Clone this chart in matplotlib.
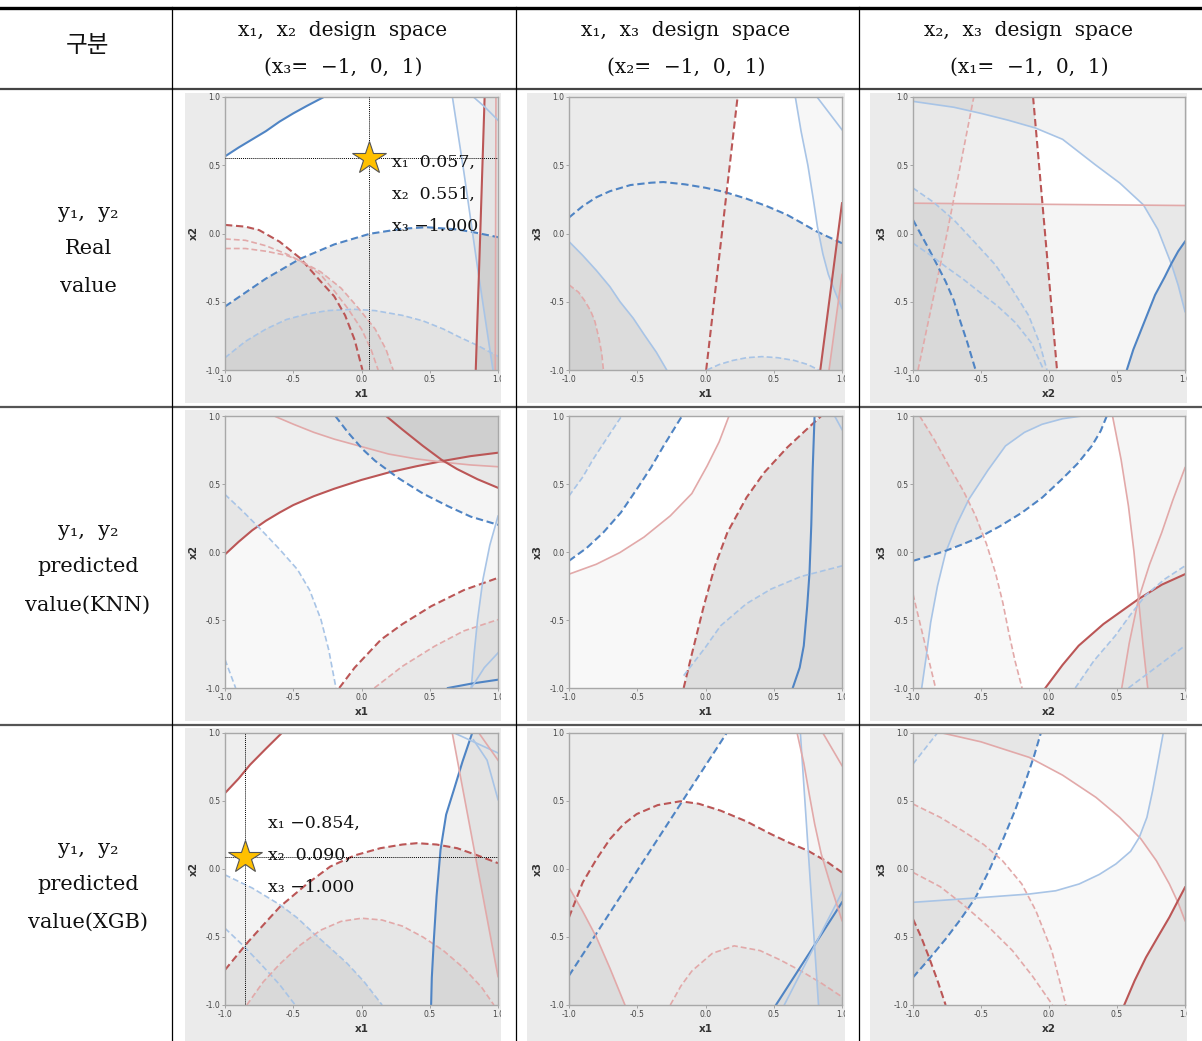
import numpy as np
import matplotlib.pyplot as plt
from matplotlib.patches import Rectangle
from matplotlib.lines import Line2D
from matplotlib.path import Path
from matplotlib.transforms import Bbox, TransformedBbox

W, H = 1202, 1041

# ---- contour curves per panel: name -> (x values, y values) ----
# row 1 : real values
real_12 = {
    "A": ([-1, -0.9, -0.8, -0.7, -0.6, -0.5, -0.4, -0.276],
          [0.565, 0.63, 0.69, 0.75, 0.82, 0.88, 0.935, 1.0]),
    "B": ([-1, -0.7, -0.451, -0.2, 0.061, 0.3, 0.476, 0.7, 0.817, 1],
          [-0.535, -0.33, -0.186, -0.08, -0.002, 0.035, 0.046, 0.03, 0.01, -0.027]),
    "C": ([-1, -0.85, -0.7, -0.55, -0.4, -0.25, -0.06, 0.1, 0.3, 0.45, 0.6, 0.72, 0.85, 1],
          [-0.91, -0.79, -0.7, -0.63, -0.59, -0.565, -0.555, -0.565, -0.6, -0.64, -0.7, -0.76, -0.82, -0.9]),
    "D1": ([-1, -0.85, -0.75, -0.6, -0.45, -0.3, -0.2, -0.12, -0.05, 0.007],
           [0.063, 0.05, 0.025, -0.06, -0.18, -0.35, -0.46, -0.6, -0.78, -1]),
    "D2": ([-1, -0.85, -0.7, -0.55, -0.45, -0.3, -0.2, -0.1, 0.0, 0.07, 0.122],
           [-0.04, -0.05, -0.09, -0.15, -0.2, -0.3, -0.42, -0.55, -0.7, -0.85, -1]),
    "D3": ([-1, -0.85, -0.7, -0.55, -0.45, -0.3, -0.15, -0.02, 0.1, 0.18, 0.232],
           [-0.11, -0.11, -0.13, -0.16, -0.2, -0.28, -0.4, -0.55, -0.7, -0.85, -1]),
    "E": ([0.666, 0.75, 0.85, 0.963], [1, 0.45, -0.25, -1]),
    "F": ([0.902, 0.87, 0.837], [1, 0.0, -1]),
    "G": ([0.985, 0.98], [1, -1]),
    "H": ([0.82, 0.9, 1], [1, 0.93, 0.83]),
}
real_13 = {
    "A": ([-1, -0.9, -0.8, -0.7, -0.55, -0.4, -0.308, -0.15, 0, 0.144, 0.3, 0.45, 0.597, 0.7, 0.804, 0.9, 1],
          [0.117, 0.2, 0.265, 0.31, 0.355, 0.372, 0.377, 0.36, 0.335, 0.303, 0.255, 0.2, 0.137, 0.08, 0.02,
           -0.025, -0.071]),
    "B": ([0.005, 0.235], [-1, 1]),
    "C": ([-1, -0.9, -0.8, -0.7, -0.626, -0.53, -0.45, -0.36, -0.284],
          [-0.059, -0.16, -0.27, -0.39, -0.5, -0.62, -0.74, -0.87, -1]),
    "D": ([-1, -0.93, -0.88, -0.84, -0.81, -0.78, -0.76, -0.748],
          [-0.376, -0.43, -0.5, -0.57, -0.645, -0.77, -0.88, -1]),
    "E": ([0.01, 0.1, 0.2, 0.3, 0.413, 0.53, 0.65, 0.75, 0.829],
          [-1, -0.96, -0.93, -0.91, -0.902, -0.91, -0.93, -0.96, -1]),
    "F": ([0.658, 0.7, 0.75, 0.79, 0.82, 0.86, 0.9, 0.95, 1.0],
          [1, 0.75, 0.5, 0.25, 0.05, -0.15, -0.3, -0.43, -0.55]),
    "G": ([0.817, 1], [1, 0.76]),
    "H": ([0.841, 1], [-1, 0.222]),
    "I": ([0.905, 1], [-1, -0.3]),
}
real_23 = {
    "A": ([-1, -0.7, -0.5, -0.3, -0.1, 0.1, 0.34, 0.52, 0.694, 0.8, 0.902, 0.95, 1],
          [0.968, 0.925, 0.88, 0.83, 0.773, 0.69, 0.504, 0.37, 0.21, 0.03, -0.23, -0.38, -0.572]),
    "B": ([-0.117, 0.059], [1, -1]),
    "C": ([-1, 1], [0.222, 0.205]),
    "D": ([-0.963, -0.75, -0.553], [-1, 0, 1]),
    "E": ([-1, -0.94, -0.88, -0.82, -0.76, -0.7, -0.65, -0.6, -0.54],
          [0.1, -0.01, -0.12, -0.235, -0.352, -0.49, -0.65, -0.8, -1]),
    "F": ([-1, -0.87, -0.75, -0.63, -0.516, -0.38, -0.25, -0.13, -0.039],
          [-0.071, -0.16, -0.25, -0.335, -0.425, -0.53, -0.65, -0.8, -1]),
    "G": ([-1, -0.85, -0.7, -0.55, -0.394, -0.27, -0.15, -0.07, -0.015],
          [0.333, 0.23, 0.1, -0.06, -0.23, -0.41, -0.6, -0.8, -1]),
    "H": ([0.572, 0.62, 0.68, 0.78, 0.85, 0.9, 0.95, 1],
          [-1, -0.85, -0.7, -0.45, -0.32, -0.22, -0.13, -0.059]),
}
# row 2 : KNN predictions
knn_12 = {
    "A": ([-1, -0.9, -0.8, -0.7, -0.6, -0.5, -0.35, -0.2, 0, 0.2, 0.4, 0.6, 0.8, 1],
          [-0.018, 0.075, 0.16, 0.23, 0.29, 0.345, 0.41, 0.465, 0.53, 0.585, 0.63, 0.67, 0.705, 0.73]),
    "B": ([-0.64, -0.5, -0.35, -0.2, 0, 0.2, 0.4, 0.6, 0.8, 1],
          [1, 0.94, 0.88, 0.83, 0.775, 0.72, 0.685, 0.66, 0.64, 0.627]),
    "C": ([0.18, 0.3, 0.45, 0.584, 0.7, 0.85, 1], [1, 0.9, 0.78, 0.68, 0.61, 0.535, 0.472]),
    "D": ([-0.192, -0.1, 0.009, 0.1, 0.266, 0.45, 0.633, 0.8, 1],
          [1, 0.88, 0.755, 0.67, 0.546, 0.43, 0.337, 0.26, 0.2]),
    "E": ([-1, -0.87, -0.738, -0.6, -0.469, -0.38, -0.297, -0.24, -0.187],
          [0.423, 0.3, 0.166, 0.02, -0.129, -0.28, -0.497, -0.72, -1]),
    "F": ([-1, -0.922], [-0.791, -1]),
    "G": ([-0.163, -0.05, 0.143, 0.3, 0.51, 0.75, 1], [-1, -0.85, -0.644, -0.53, -0.399, -0.28, -0.19]),
    "H": ([0.094, 0.3, 0.535, 0.75, 1], [-1, -0.84, -0.693, -0.58, -0.497]),
    "I": ([0.804, 0.825, 0.85, 0.89, 0.94, 1], [-1, -0.75, -0.5, -0.2, 0.05, 0.264]),
    "J": ([0.633, 0.804, 1], [-1, -0.968, -0.939]),
    "K": ([0.804, 0.9, 1], [-1, -0.85, -0.742]),
}
knn_13 = {
    "A": ([-1, -0.9, -0.823, -0.72, -0.614], [0.412, 0.55, 0.682, 0.84, 1]),
    "B": ([-1, -0.87, -0.749, -0.62, -0.504, -0.4, -0.307, -0.172],
          [-0.065, 0.03, 0.143, 0.29, 0.461, 0.62, 0.78, 1]),
    "C": ([-1, -0.8, -0.627, -0.45, -0.258, -0.1, 0.012, 0.1, 0.172],
          [-0.163, -0.09, -0.004, 0.11, 0.266, 0.43, 0.633, 0.81, 1]),
    "D": ([-0.16, -0.1, -0.012, 0.07, 0.16, 0.3, 0.43, 0.6, 0.75, 0.848],
          [-1, -0.75, -0.395, -0.1, 0.143, 0.4, 0.584, 0.77, 0.91, 1]),
    "E": ([0.639, 0.69, 0.72, 0.745, 0.762, 0.775, 0.785, 0.799],
          [-1, -0.85, -0.689, -0.4, -0.151, 0.2, 0.6, 1]),
    "F": ([-0.16, 0, 0.111, 0.3, 0.479, 0.7, 1], [-0.909, -0.7, -0.542, -0.38, -0.273, -0.18, -0.102]),
    "G": ([0.946, 1], [1, 0.9]),
}
knn_23 = {
    "A": ([-0.936, -0.9, -0.87, -0.82, -0.76, -0.68, -0.589, -0.45, -0.32, -0.18, -0.051, 0.1, 0.242],
          [-1, -0.75, -0.518, -0.25, -0.004, 0.2, 0.388, 0.6, 0.78, 0.88, 0.939, 0.98, 1]),
    "B": ([-1, -0.88, -0.76, -0.64, -0.516, -0.36, -0.198, -0.05, 0.095, 0.21, 0.315, 0.38, 0.425],
          [-0.065, -0.03, 0.009, 0.055, 0.106, 0.19, 0.29, 0.4, 0.535, 0.65, 0.78, 0.89, 1]),
    "C": ([-0.951, -0.84, -0.736, -0.63, -0.54, -0.46, -0.394, -0.34, -0.296, -0.25, -0.198],
          [1, 0.82, 0.633, 0.45, 0.266, 0.06, -0.151, -0.37, -0.591, -0.8, -1]),
    "D": ([-1, -0.834], [-0.31, -1]),
    "E": ([0.467, 0.53, 0.584, 0.625, 0.658, 0.69, 0.726], [1, 0.68, 0.339, 0, -0.346, -0.67, -1]),
    "F": ([-0.027, 0.1, 0.218, 0.4, 0.658, 0.83, 1], [-1, -0.83, -0.689, -0.53, -0.346, -0.24, -0.163]),
    "G": ([0.535, 0.59, 0.658, 0.74, 0.829, 0.91, 1], [-1, -0.67, -0.346, -0.09, 0.143, 0.38, 0.62]),
    "H": ([0.193, 0.33, 0.487, 0.6, 0.707, 0.85, 1], [-1, -0.8, -0.616, -0.46, -0.322, -0.2, -0.102]),
    "I": ([0.584, 1], [-1, -0.689]),
}
# row 3 : XGB predictions
xgb_12 = {
    "A": ([-1, -0.9, -0.816, -0.7, -0.584], [0.558, 0.665, 0.767, 0.885, 1]),
    "B": ([-1, -0.9, -0.829, -0.7, -0.596, -0.4, -0.229, -0.05, 0.138, 0.3, 0.408, 0.55, 0.701, 0.85, 1],
          [-0.742, -0.62, -0.534, -0.39, -0.276, -0.11, 0.018, 0.1, 0.153, 0.18, 0.19, 0.18, 0.153, 0.1, 0.043]),
    "C": ([-1, -0.8, -0.596, -0.47, -0.351, -0.23, -0.106, 0.02, 0.151],
          [-0.043, -0.14, -0.264, -0.36, -0.472, -0.58, -0.693, -0.83, -1]),
    "D": ([-1, -0.87, -0.743, -0.6, -0.486], [-0.436, -0.56, -0.693, -0.85, -1]),
    "E": ([-0.84, -0.72, -0.6, -0.45, -0.3, -0.15, 0, 0.15, 0.3, 0.45, 0.6, 0.75, 0.88, 0.97],
          [-1, -0.83, -0.7, -0.56, -0.45, -0.385, -0.362, -0.375, -0.42, -0.5, -0.6, -0.73, -0.87, -1]),
    "F": ([0.51, 0.515, 0.53, 0.55, 0.579, 0.62, 0.677, 0.74, 0.811],
          [-1, -0.8, -0.521, -0.2, 0.141, 0.4, 0.583, 0.79, 1]),
    "G": ([0.665, 1], [1, -0.791]),
    "H": ([0.68, 1], [1, 0.853]),
    "I": ([0.86, 1], [1, 0.8]),
    "J": ([0.82, 0.92, 1], [0.95, 0.8, 0.51]),
}
xgb_13 = {
    "A": ([-1, 0.155], [-0.784, 1]),
    "B": ([-1, -0.9, -0.8, -0.7, -0.6, -0.504, -0.35, -0.184, -0.05, 0.111, 0.3, 0.479, 0.62, 0.749, 0.88, 1],
          [-0.355, -0.1, 0.07, 0.22, 0.33, 0.404, 0.47, 0.498, 0.48, 0.429, 0.35, 0.257, 0.19, 0.135, 0.06,
           -0.025]),
    "C": ([-1, -0.9, -0.799, -0.7, -0.59], [-0.135, -0.31, -0.502, -0.73, -1]),
    "D": ([-0.258, -0.18, -0.1, 0.05, 0.21, 0.4, 0.55, 0.7, 0.85, 1],
          [-1, -0.86, -0.75, -0.62, -0.565, -0.6, -0.67, -0.75, -0.84, -0.94]),
    "E": ([0.516, 1], [-1, -0.245]),
    "F": ([0.577, 1], [-1, -0.172]),
    "G": ([0.695, 0.828], [1, -1]),
    "H": ([0.671, 0.72, 0.76, 0.8, 0.848, 0.92, 1], [1, 0.78, 0.55, 0.33, 0.11, -0.13, -0.38]),
    "I": ([0.86, 1], [1, 0.76]),
}
xgb_23 = {
    "A": ([-1, -0.88, -0.76, -0.65, -0.539, -0.44, -0.342, -0.25, -0.171, -0.11, -0.06],
          [-0.797, -0.66, -0.515, -0.37, -0.208, -0.01, 0.208, 0.43, 0.65, 0.83, 1]),
    "B": ([-0.784, -0.5, -0.146, 0.1, 0.345, 0.52, 0.676, 0.79, 0.885, 0.95, 1],
          [1, 0.935, 0.821, 0.69, 0.527, 0.38, 0.221, 0.06, -0.11, -0.25, -0.38]),
    "C": ([-1, -0.539, -0.146, 0.05, 0.222, 0.37, 0.492, 0.6, 0.664, 0.72, 0.762, 0.8, 0.84],
          [-0.245, -0.213, -0.184, -0.16, -0.11, -0.04, 0.037, 0.13, 0.233, 0.38, 0.576, 0.78, 1]),
    "D": ([-1, -0.821], [0.772, 1]),
    "E": ([-1, -0.8, -0.637, -0.48, -0.342, -0.2, -0.097, 0.02, 0.124],
          [0.478, 0.38, 0.282, 0.18, 0.061, -0.11, -0.306, -0.6, -1]),
    "F": ([-1, -0.8, -0.637, -0.45, -0.269, -0.12, 0.026], [-0.025, -0.13, -0.257, -0.42, -0.6, -0.79, -1]),
    "G": ([-1, -0.94, -0.882, -0.82, -0.76], [-0.368, -0.5, -0.65, -0.82, -1]),
    "H": ([0.553, 0.63, 0.713, 0.8, 0.885, 0.95, 1], [-1, -0.82, -0.65, -0.5, -0.355, -0.23, -0.135]),
}

# optimum points marked with a star (x, y, text lines)
opt_real = (0.057, 0.551, ["x\u2081  0.057,", "x\u2082  0.551,", "x\u2083 \u22121.000"])
opt_xgb = (-0.854, 0.090, ["x\u2081 \u22120.854,", "x\u2082  0.090,", "x\u2083 \u22121.000"])

col_titles = [("x\u2081,  x\u2082  design  space", "(x\u2083=  \u22121,  0,  1)"),
              ("x\u2081,  x\u2083  design  space", "(x\u2082=  \u22121,  0,  1)"),
              ("x\u2082,  x\u2083  design  space", "(x\u2081=  \u22121,  0,  1)")]
row_titles = [["y\u2081,  y\u2082", "Real", "value"],
              ["y\u2081,  y\u2082", "predicted", "value(KNN)"],
              ["y\u2081,  y\u2082", "predicted", "value(XGB)"]]
axis_names = [("x1", "x2"), ("x1", "x3"), ("x2", "x3")]

# ---- styles: (curve, style code, corners closing the shaded side, shade, shade group) ----
# curves of one group shade as a union, different groups add up
TL, TR, BL, BR = (-1, 1), (1, 1), (-1, -1), (1, -1)
sty_real_12 = [("A", "B-", [TL], 0.08, "a"), ("B", "B--", [BR, BL], 0.08, "b"),
               ("C", "b--", [BR, BL], 0.03, "c"),
               ("D1", "R--", [BL], 0.065, "d"), ("D2", "r--", [BL], 0.04, "d"), ("D3", "r--", [BL], 0.04, "d"),
               ("E", "b-", [BR, TR], 0.035, "e"), ("F", "R-", [BR, TR], 0.07, "f"),
               ("G", "r-", [BR, TR], 0.03, "e"), ("H", "b-", [TR], 0.03, "e")]
sty_real_13 = [("A", "B--", [BR, BL], 0.08, "a"), ("B", "R--", [TL, BL], 0.08, "a"),
               ("C", "b-", [BL], 0.06, "c"), ("D", "r--", [BL], 0.04, "d"), ("E", "b--", [], 0.03, "e"),
               ("F", "b-", [TR], 0.035, "f"), ("G", "b-", [TR], 0.02, "f"), ("H", "R-", [BR], 0.06, "h"),
               ("I", "r-", [BR], 0.03, "i")]
sty_real_23 = [("A", "b-", [TR, TL], 0.05, "a"), ("B", "R--", [BL, TL], 0.07, "b"),
               ("C", "r-", [BR, BL], 0.04, "c"), ("D", "r--", [TL, BL], 0.02, "d"),
               ("E", "B--", [BL], 0.04, "e"), ("F", "b--", [BL], 0.02, "e"), ("G", "b--", [BL], 0.02, "e"),
               ("H", "B-", [BR], 0.08, "h")]
sty_knn_12 = [("A", "R-", [TR, TL], 0.07, "a"), ("B", "r-", [TR], 0.03, "b"), ("C", "R-", [TR], 0.05, "c"),
              ("D", "B--", [TR], 0.04, "d"), ("E", "b--", [BL], 0.03, "e"), ("F", "b--", [BL], 0.02, "e"),
              ("G", "R--", [BR], 0.06, "g"), ("H", "r--", [BR], 0.03, "h"), ("I", "b-", [BR], 0.04, "i"),
              ("J", "B-", [BR], 0.04, "i"), ("K", "b-", [BR], 0.0, "k")]
sty_knn_13 = [("A", "b--", [TL], 0.03, "a"), ("B", "B--", [TL], 0.07, "b"),
              ("C", "r-", [TR, BR, BL], 0.03, "c"), ("D", "R--", [TR, BR], 0.08, "d"),
              ("E", "B-", [TR, BR], 0.02, "e"), ("F", "b--", [BR, (-0.16, -1)], 0.02, "f"),
              ("G", "b-", [TR], 0.0, "g")]
sty_knn_23 = [("A", "b-", [TL, BL], 0.04, "a"), ("B", "B--", [TL], 0.07, "b"), ("C", "r--", [BL, TL], 0.03, "c"),
              ("D", "r--", [BL], 0.02, "d"), ("E", "r-", [BR, TR], 0.04, "e"), ("F", "R-", [BR], 0.07, "f"),
              ("G", "r-", [BR], 0.02, "g"), ("H", "b--", [BR], 0.03, "h"), ("I", "b--", [BR], 0.02, "h")]
sty_xgb_12 = [("A", "R-", [TL], 0.07, "a"), ("B", "R--", [BR, BL], 0.07, "b"), ("C", "b--", [BL], 0.05, "c"),
              ("D", "b--", [BL], 0.02, "c"), ("E", "r--", [], 0.03, "e"), ("F", "B-", [TR, BR], 0.06, "f"),
              ("G", "r-", [TR], 0.05, "g"), ("H", "b-", [TR], 0.0, "h"), ("I", "r-", [TR], 0.0, "h"),
              ("J", "b-", [TR], 0.0, "h")]
sty_xgb_13 = [("A", "B--", [TL], 0.08, "a"), ("B", "R--", [BR, BL], 0.08, "a"), ("C", "r-", [BL], 0.06, "c"),
              ("D", "r--", [BR], 0.02, "d"), ("E", "B-", [BR], 0.04, "e"), ("F", "b-", [BR], 0.02, "e"),
              ("G", "b-", [BR, TR], 0.04, "g"), ("H", "r-", [TR], 0.03, "h"), ("I", "r-", [TR], 0.0, "h")]
sty_xgb_23 = [("A", "B--", [TL], 0.07, "a"), ("B", "r-", [TR], 0.03, "b"), ("C", "b-", [TR, BR, BL], 0.03, "c"),
              ("D", "b--", [TL], 0.02, "d"), ("E", "r--", [BL], 0.02, "e"), ("F", "r--", [BL], 0.02, "e"),
              ("G", "R--", [BL], 0.05, "g"), ("H", "R-", [BR], 0.08, "h")]

panels = [[(real_12, sty_real_12), (real_13, sty_real_13), (real_23, sty_real_23)],
          [(knn_12, sty_knn_12), (knn_13, sty_knn_13), (knn_23, sty_knn_23)],
          [(xgb_12, sty_xgb_12), (xgb_13, sty_xgb_13), (xgb_23, sty_xgb_23)]]

colors = {"B": "#4f84c4", "b": "#a8c4e6", "R": "#bb5656", "r": "#e2a9a9"}

# pixel layout
img_x = [(185, 501), (527, 845), (870, 1187)]
img_y = [(93, 403), (410, 721), (728, 1041)]
ax_x = [(225, 498), (569, 842), (913, 1185)]
ax_y = [(97, 370), (416, 688), (733, 1005)]

fig = plt.figure(figsize=(W / 100, H / 100), dpi=100)


def frect(x0, x1, y0, y1):
    return [x0 / W, 1 - y1 / H, (x1 - x0) / W, (y1 - y0) / H]


# grid used to rasterise the shaded (infeasible) sides
n = 400
g = (np.arange(n) + 0.5) / n * 2 - 1
gx, gy = np.meshgrid(g, g)
grid_pts = np.column_stack([gx.ravel(), gy.ravel()])

serif = "DejaVu Serif"
ticks = [-1, -0.5, 0, 0.5, 1]
tick_txt = ["-1.0", "-0.5", "0.0", "0.5", "1.0"]

for r in range(3):
    for c in range(3):
        x0, x1 = img_x[c]
        y0, y1 = img_y[r]
        fig.patches.append(Rectangle((x0 / W, 1 - y1 / H), (x1 - x0) / W, (y1 - y0) / H,
                                     transform=fig.transFigure, facecolor="#ebebeb",
                                     edgecolor="none", zorder=-5))
        ax = fig.add_axes(frect(ax_x[c][0], ax_x[c][1], ax_y[r][0], ax_y[r][1]))
        ax.set_facecolor("white")
        curves, styles = panels[r][c]

        groups = {}
        for name, code, corners, shade, grp in styles:
            if shade <= 0:
                continue
            xs, ys = curves[name]
            poly = Path(list(zip(xs, ys)) + list(corners) + [(xs[0], ys[0])])
            inside = poly.contains_points(grid_pts).reshape(n, n) * shade
            groups[grp] = np.maximum(groups.get(grp, 0), inside)
        dark = sum(groups.values()) if groups else np.zeros((n, n))
        ax.imshow(1 - dark, extent=[-1, 1, -1, 1], origin="lower", cmap="gray", vmin=0, vmax=1,
                  interpolation="nearest", zorder=1, aspect="auto")

        for name, code, corners, shade, grp in styles:
            xs, ys = curves[name]
            ls = "-" if code[1:] == "-" else (0, (3.5, 1.8))
            lw = 1.5 if code[0].isupper() else 1.2
            ax.plot(xs, ys, color=colors[code[0]], linestyle=ls, linewidth=lw, zorder=2)

        ax.set_xlim(-1, 1)
        ax.set_ylim(-1, 1)
        ax.set_xticks(ticks)
        ax.set_yticks(ticks)
        ax.set_xticklabels(tick_txt)
        ax.set_yticklabels(tick_txt)
        ax.tick_params(length=2, width=0.6, color="#999999", labelsize=5.5,
                       labelcolor="#444444", pad=1.5)
        clip = TransformedBbox(Bbox.from_extents(x0 / W, 1 - y1 / H, x1 / W, 1 - y0 / H), fig.transFigure)
        for lbl in ax.get_xticklabels():
            lbl.set_clip_box(clip)
            lbl.set_clip_on(True)
        for sp in ax.spines.values():
            sp.set_color("#a8a8a8")
            sp.set_linewidth(1.0)
        ax.set_xlabel(axis_names[c][0], fontsize=7.5, fontweight="bold", color="#333333", labelpad=3.5)
        ax.set_ylabel(axis_names[c][1], fontsize=7.5, fontweight="bold", color="#333333", labelpad=4.5)

        opt = opt_real if (r, c) == (0, 0) else opt_xgb if (r, c) == (2, 0) else None
        if opt is not None:
            ox, oy, lines = opt
            ax.axvline(ox, color="black", linewidth=0.7, linestyle=(0, (1, 1)), zorder=3)
            ax.axhline(oy, color="black", linewidth=0.7, linestyle=(0, (1, 1)), zorder=3)
            ax.plot([ox], [oy], marker="*", markersize=25, markerfacecolor="#ffc000",
                    markeredgecolor="#555555", markeredgewidth=0.8, zorder=4)
            tx = ax_x[c][0] + (ox + 1) / 2 * (ax_x[c][1] - ax_x[c][0]) + 23
            ty = ax_y[r][0] + (1 - oy) / 2 * (ax_y[r][1] - ax_y[r][0]) + 4
            if r == 2:
                ty -= 37
            for k, s in enumerate(lines):
                fig.text(tx / W, 1 - (ty + 32 * k) / H, s, fontsize=12.5, family=serif,
                         va="center", ha="left", color="#111111", zorder=5)


# ---- table grid ----
def hline(y, lw, color):
    fig.add_artist(Line2D([0, 1], [1 - y / H, 1 - y / H], transform=fig.transFigure,
                          color=color, linewidth=lw))


def vline(x, y0, y1):
    fig.add_artist(Line2D([x / W, x / W], [1 - y0 / H, 1 - y1 / H], transform=fig.transFigure,
                          color="black", linewidth=0.9))


hline(7.5, 2.4, "black")
hline(89, 1.6, "#444444")
hline(406.5, 1.6, "#555555")
hline(724.5, 1.6, "#555555")
for xv in (171.5, 515.5, 858.5):
    vline(xv, 7, 1041)

# ---- header and row labels ----
fig.text(88 / W, 1 - 46 / H, "구분", fontsize=17, family=["Noto Sans CJK KR", "DejaVu Sans"],
         ha="center", va="center", color="#111111")
for c, (l1, l2) in enumerate(col_titles):
    cx = [343, 686, 1029][c]
    fig.text(cx / W, 1 - 30 / H, l1, fontsize=14.5, family=serif, ha="center", va="center",
             color="#111111")
    fig.text(cx / W, 1 - 67 / H, l2, fontsize=14.5, family=serif, ha="center", va="center",
             color="#111111")
row_y = [(213, 249, 287), (531, 567, 605), (849, 885, 922)]
for r in range(3):
    for k, s in enumerate(row_titles[r]):
        fig.text(88 / W, 1 - row_y[r][k] / H, s, fontsize=15, family=serif, ha="center",
                 va="center", color="#111111")

fig.savefig("out.png", dpi=100)
